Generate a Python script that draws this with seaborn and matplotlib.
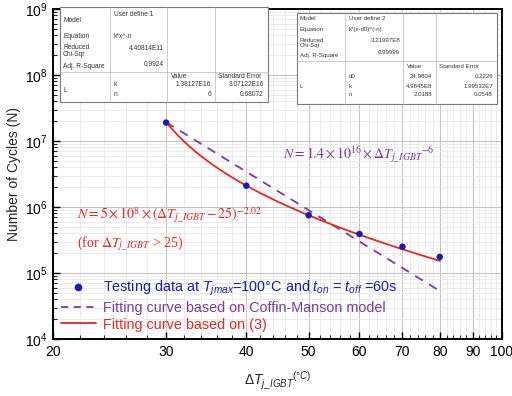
import numpy as np
import pandas as pd
import matplotlib
matplotlib.use("Agg")
import matplotlib.pyplot as plt
import seaborn as sns
from matplotlib.ticker import FixedLocator, FixedFormatter, NullFormatter, LogLocator
from matplotlib.patches import Rectangle
from matplotlib.lines import Line2D

# Measured power-cycling lifetimes
delta_t = [30, 40, 50, 60, 70, 80]
cycles = [1.9e7, 2.1e6, 7.5e5, 3.9e5, 2.5e5, 1.75e5]

# Coffin-Manson fit: N = k * dT^-n
cm_k = 1.4e16
cm_n = 6
# Model (3): N = k * (dT - d0)^-n
m3_k = 5e8
m3_d0 = 25
m3_n = 2.02

x_major = [20, 30, 40, 50, 60, 70, 80, 90, 100]
x_minor = [v for v in range(22, 100, 2) if v % 10 != 0]

# Fit report tables
left_info = [("Model", "User define 1"), ("Equation", "k*x^-n"),
             ("Reduced\nChi-Sqr", "4.40814E11"), ("Adj. R-Square", "0.9924")]
left_params = [("k", "1.38127E16", "3.07122E16"), ("n", "6", "0.68072")]
right_info = [("Model", "User define 2"), ("Equation", "k*(x-d0)^(-n)"),
              ("Reduced\nChi-Sqr", "3.21997E8"), ("Adj. R-Square", "0.99999")]
right_params = [("d0", "24.9804", "0.2226"), ("k", "4.9845E8", "1.99532E7"),
                ("n", "2.0188", "0.0548")]

sns.set_theme(style="white")
plt.rcParams["font.family"] = ["Liberation Sans", "DejaVu Sans"]
plt.rcParams["mathtext.fontset"] = "custom"
plt.rcParams["mathtext.rm"] = "Liberation Sans"
plt.rcParams["mathtext.it"] = "Liberation Sans:italic"
plt.rcParams["mathtext.default"] = "it"

W, H = 512, 396
fig = plt.figure(figsize=(W / 100, H / 100), dpi=100)
ax = fig.add_axes([53 / W, 1 - 339 / H, (502 - 53) / W, (339 - 9) / H])

c_dot = "#1c1ca8"
c_cm = "#7a3c9a"
c_m3 = "#e02a2a"

xs = np.linspace(30, 80, 200)
curves = pd.DataFrame({
    "x": xs,
    "cm": cm_k * xs ** (-cm_n),
    "m3": m3_k * (xs - m3_d0) ** (-m3_n),
})
pts = pd.DataFrame({"x": delta_t, "N": cycles})

sns.lineplot(data=curves, x="x", y="cm", ax=ax, color=c_cm, lw=1.3,
             linestyle=(0, (5, 4)), zorder=3)
sns.lineplot(data=curves, x="x", y="m3", ax=ax, color=c_m3, lw=1.3, zorder=4)
sns.scatterplot(data=pts, x="x", y="N", ax=ax, color=c_dot, s=22,
                edgecolor="none", zorder=5)

ax.set_xscale("log")
ax.set_yscale("log")
ax.set_xlim(20, 100)
ax.set_ylim(1e4, 1e9)

ax.xaxis.set_major_locator(FixedLocator(x_major))
ax.xaxis.set_major_formatter(FixedFormatter([str(v) for v in x_major]))
ax.xaxis.set_minor_locator(FixedLocator(x_minor))
ax.xaxis.set_minor_formatter(NullFormatter())
ax.yaxis.set_major_locator(LogLocator(base=10, numticks=10))
ax.yaxis.set_minor_locator(LogLocator(base=10, subs=np.arange(2, 10), numticks=20))
ax.yaxis.set_minor_formatter(NullFormatter())

ax.grid(which="major", color="#c4c4c4", lw=0.8)
ax.grid(which="minor", color="#e8e8e8", lw=0.6)
ax.set_axisbelow(True)
ax.tick_params(which="major", direction="in", length=5, width=1, labelsize=10,
               colors="black", left=True, bottom=True, pad=4)
ax.tick_params(which="minor", direction="in", length=3, width=0.8,
               left=True, bottom=True)
for sp in ax.spines.values():
    sp.set_color("black")
    sp.set_linewidth(1.4)

ax.set_ylabel("Number of Cycles (N)", fontsize=10, labelpad=3)
ax.set_xlabel(r"$\Delta T_{j\_IGBT}$$^{(°C)}$", fontsize=10, labelpad=8)

# Fitted equations
ax.text(0.68, 0.558, r"$N = 1.4\times10^{16}\times\Delta T_{j\_IGBT}{}^{-6}$",
        transform=ax.transAxes, color=c_cm, fontsize=10, ha="center",
        va="center", math_fontfamily="stix")
ax.text(0.053, 0.376,
        r"$N = 5\times10^{8}\times\left(\Delta T_{j\_IGBT}-25\right)^{-2.02}$",
        transform=ax.transAxes, color=c_m3, fontsize=10, ha="left",
        va="center", math_fontfamily="stix")
ax.text(0.053, 0.29, r"(for $\Delta T_{j\_IGBT}$ > 25)",
        transform=ax.transAxes, color=c_m3, fontsize=10, ha="left",
        va="center", family=["Liberation Serif"], math_fontfamily="stix")

handles = [
    Line2D([], [], marker="o", ls="none", color=c_dot, markersize=4.5),
    Line2D([], [], color=c_cm, lw=1.3, ls=(0, (4, 3))),
    Line2D([], [], color=c_m3, lw=1.3),
]
labels = [
    r"Testing data at $T_{jmax}$=100°C and $t_{on}$ = $t_{off}$ =60s",
    "Fitting curve based on Coffin-Manson model",
    "Fitting curve based on (3)",
]
leg = ax.legend(handles, labels, loc="lower left", bbox_to_anchor=(-0.005, -0.008),
                frameon=False, fontsize=10.4, handlelength=2.4, handletextpad=0.55,
                labelspacing=0.18, borderaxespad=0.3)
for t, c in zip(leg.get_texts(), [c_dot, c_cm, c_m3]):
    t.set_color(c)


def px(x, y):
    return x / W, 1 - y / H


def draw_table(x0, x1, y0, y1, colx, info, info_y, model_val_y, sep_y, head_y,
               params, param_y, lbl_y, fs):
    fx0, fy1 = px(x0, y0)
    fx1, fy0 = px(x1, y1)
    fig.add_artist(Rectangle((fx0, fy0), fx1 - fx0, fy1 - fy0, facecolor="white",
                             edgecolor="#7a7a7a", lw=0.8, zorder=6,
                             transform=fig.transFigure))
    lc = "#b8b8b8"

    def hline(y, xa, xb):
        fig.add_artist(Line2D([xa / W, xb / W], [1 - y / H] * 2, color=lc,
                              lw=0.5, zorder=7, transform=fig.transFigure))

    def vline(x, ya, yb):
        fig.add_artist(Line2D([x / W] * 2, [1 - ya / H, 1 - yb / H], color=lc,
                              lw=0.5, zorder=7, transform=fig.transFigure))

    vline(colx[1], y0, y1)
    vline(colx[2], y0, y1)
    vline(colx[3], y0, y1)
    hline(sep_y, x0, x1)
    kw = dict(fontsize=fs, color="#333333", zorder=8, va="center",
              linespacing=1.0)
    for (lab, val), yy in zip(info, info_y):
        fig.text(*px(x0 + 3, yy), lab, ha="left", **kw)
        if lab == "Model":
            fig.text(*px(colx[1] + 4, model_val_y), val, ha="left", **kw)
        elif lab == "Equation":
            fig.text(*px(colx[1] + 4, yy), val, ha="left", **kw)
        else:
            fig.text(*px(colx[2] - 3, yy - 3), val, ha="right", **kw)
    fig.text(*px(colx[2] + 4, head_y), "Value", ha="left", **kw)
    fig.text(*px(colx[3] + 3, head_y), "Standard Error", ha="left", **kw)
    for (name, v, se), yy in zip(params, param_y):
        fig.text(*px(colx[1] + 4, yy), name, ha="left", **kw)
        fig.text(*px(colx[3] - 4, yy), v, ha="right", **kw)
        fig.text(*px(x1 - 4, yy), se, ha="right", **kw)
    fig.text(*px(x0 + 3, lbl_y), "L", ha="left", **kw)


draw_table(60, 268, 7, 102, [60, 110, 167, 215, 268], left_info,
           [20, 37, 51, 67], 14, 72, 76, left_params, [85, 94], 91, 4.8)
draw_table(297, 497, 13, 104, [297, 345, 403, 436, 497], right_info,
           [19, 29, 43, 56], 18, 61, 67, right_params, [77, 86, 95], 86, 4.4)

fig.savefig("out.png", dpi=100)
